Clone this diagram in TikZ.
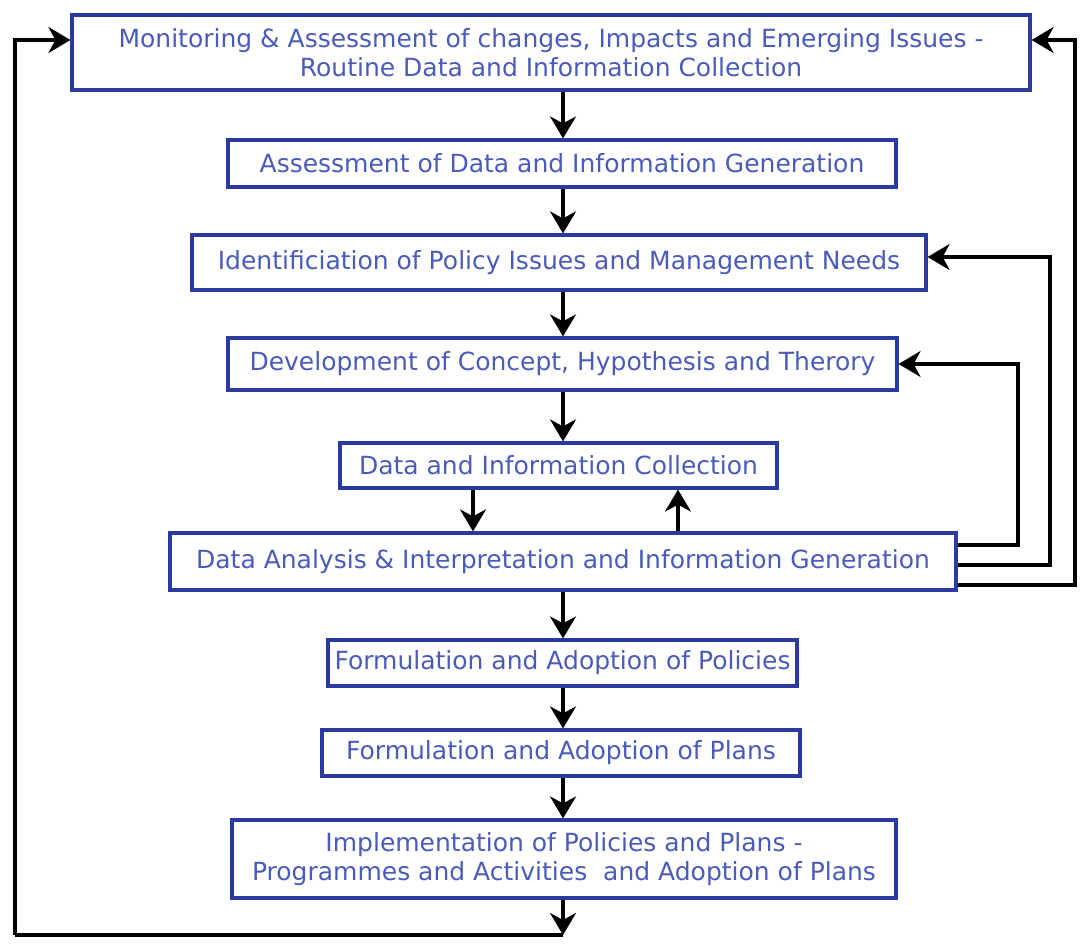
\documentclass[tikz,border=0pt]{standalone}
\usepackage{fontspec}
\setmainfont{DejaVu Sans}
\usetikzlibrary{arrows.meta}
\definecolor{boxline}{HTML}{2B3AA0}
\definecolor{boxtext}{HTML}{4A5BBA}
\begin{document}
\begin{tikzpicture}[x=1pt,y=-1pt,
  stagebox/.style={draw=boxline, line width=3.2pt, text=boxtext, inner sep=0pt,
    align=center, font=\fontsize{25}{29.5}\selectfont},
  arr/.style={line width=3.2pt, -{Stealth[length=22pt,width=26pt,inset=7pt]}},
  link/.style={line width=3.2pt}]
\useasboundingbox (0,0) rectangle (1081,945);
\fill[white] (0,0) rectangle (1081,945);

% stages, top to bottom
\node[stagebox, minimum width=958pt, minimum height=75pt] (b1) at (551,52.5)
  {Monitoring \& Assessment of changes, Impacts and Emerging Issues -\\Routine Data and Information Collection};
\node[stagebox, minimum width=668pt, minimum height=47pt] (b2) at (562,163.5)
  {Assessment of Data and Information Generation};
\node[stagebox, minimum width=734pt, minimum height=55pt] (b3) at (559,262.5)
  {Identificiation of Policy Issues and Management Needs};
\node[stagebox, minimum width=669pt, minimum height=52pt] (b4) at (562.5,364)
  {Development of Concept, Hypothesis and Therory};
\node[stagebox, minimum width=437pt, minimum height=45pt] (b5) at (558.5,465.5)
  {Data and Information Collection};
\node[stagebox, minimum width=786pt, minimum height=57pt] (b6) at (563,561.5)
  {Data Analysis \& Interpretation and Information Generation};
\node[stagebox, minimum width=469pt, minimum height=46pt] (b7) at (562.5,663)
  {Formulation and Adoption of Policies};
\node[stagebox, minimum width=478pt, minimum height=46pt] (b8) at (561,753)
  {Formulation and Adoption of Plans};
\node[stagebox, minimum width=664pt, minimum height=78pt] (b9) at (564,859)
  {Implementation of Policies and Plans -\\Programmes and Activities\ \ and Adoption of Plans};

% guide coordinates
\coordinate (ax) at (563,0);
\coordinate (dn) at (473,0);
\coordinate (up) at (678,0);
\coordinate (r1) at (1018,545);
\coordinate (r2) at (1050,565);
\coordinate (r3) at (1075,585);
\coordinate (y3) at (0,257);
\coordinate (y1) at (0,40);
\coordinate (bl) at (563,935);
\coordinate (lft) at (15,935);

% main flow
\draw[arr] (b1.south -| ax) -- (b2.north -| ax);
\draw[arr] (b2.south -| ax) -- (b3.north -| ax);
\draw[arr] (b3.south -| ax) -- (b4.north -| ax);
\draw[arr] (b4.south -| ax) -- (b5.north -| ax);
\draw[arr] (b5.south -| dn) -- (b6.north -| dn);
\draw[arr] (b6.north -| up) -- (b5.south -| up);
\draw[arr] (b6.south -| ax) -- (b7.north -| ax);
\draw[arr] (b7.south -| ax) -- (b8.north -| ax);
\draw[arr] (b8.south -| ax) -- (b9.north -| ax);
\draw[arr] (b9.south -| ax) -- (bl);

% feedback loops on the right
\draw[arr] (b6.east |- r1) -- (r1) |- (b4.east);
\draw[arr] (b6.east |- r2) -- (r2) |- (b3.east |- y3);
\draw[arr] (b6.east |- r3) -- (r3) |- (b1.east |- y1);

% return loop on the left
\draw[link] (bl) -- (lft);
\draw[arr] (lft) |- (b1.west |- y1);
\end{tikzpicture}
\end{document}
